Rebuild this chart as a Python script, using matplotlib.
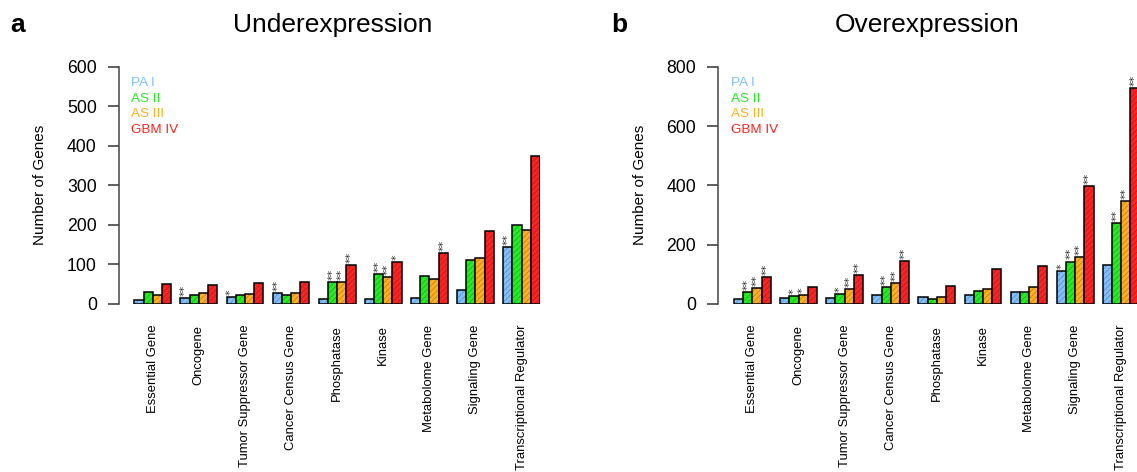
import numpy as np
import matplotlib.pyplot as plt
import matplotlib.colors as mcolors
from matplotlib.transforms import offset_copy

plt.rcParams['font.family'] = ['Liberation Sans', 'DejaVu Sans']
plt.rcParams['hatch.linewidth'] = 0.6

categories = ['Essential Gene', 'Oncogene', 'Tumor Suppressor Gene', 'Cancer Census Gene',
              'Phosphatase', 'Kinase', 'Metabolome Gene', 'Signaling Gene',
              'Transcriptional Regulator']
grades = ['PA I', 'AS II', 'AS III', 'GBM IV']
grade_colors = ['#80c0ff', '#22ee22', '#ffb020', '#ff2222']

# underexpressed genes per category
under_pa = [10, 16, 17, 27, 12, 13, 14, 35, 145]
under_as2 = [30, 24, 24, 24, 56, 76, 72, 112, 200]
under_as3 = [24, 28, 26, 27, 56, 69, 62, 117, 188]
under_gbm = [50, 47, 53, 55, 98, 106, 130, 184, 375]
under_sig_pa = ['', '**', '*', '**', '', '', '', '', '**']
under_sig_as2 = ['', '', '', '', '**', '**', '', '', '']
under_sig_as3 = ['', '', '', '', '**', '**', '', '', '']
under_sig_gbm = ['', '', '', '', '**', '*', '**', '', '']

# overexpressed genes per category
over_pa = [18, 19, 19, 29, 25, 29, 41, 112, 131]
over_as2 = [41, 27, 35, 57, 18, 43, 41, 143, 272]
over_as3 = [53, 31, 50, 70, 24, 50, 56, 157, 346]
over_gbm = [91, 58, 98, 144, 62, 119, 128, 397, 727]
over_sig_pa = ['', '', '', '', '', '', '', '*', '']
over_sig_as2 = ['**', '*', '*', '**', '', '', '', '**', '**']
over_sig_as3 = ['**', '*', '**', '**', '', '', '', '**', '**']
over_sig_gbm = ['**', '', '**', '**', '', '', '', '**', '**']

W, H = 1137, 472
fig = plt.figure(figsize=(W / 100, H / 100), dpi=100)


def px(x0, y0, w, h):
    return [x0 / W, 1 - (y0 + h) / H, w / W, h / H]


def darker(c, f=0.75):
    r, g, b = mcolors.to_rgb(c)
    return (r * f, g * f, b * f)


def panel(rect, xmin, ymax, yticks, series, sigs):
    ax = fig.add_axes(rect)
    n = len(categories)
    for k, (vals, sig) in enumerate(zip(series, sigs)):
        x = np.arange(n) * 5 + 1 + k
        ax.bar(x, vals, width=1, align='edge', color=grade_colors[k],
               edgecolor=darker(grade_colors[k]), hatch='//////', linewidth=0)
        ax.bar(x, vals, width=1, align='edge', fill=False,
               edgecolor='black', linewidth=1.1)
        tr = offset_copy(ax.transData, fig=fig, x=0, y=1.5, units='points')
        for xi, v, s in zip(x, vals, sig):
            if s:
                ax.text(xi + 0.5, v, s, transform=tr, rotation=90, ha='center',
                        va='bottom', fontsize=8, color='#333333',
                        family='DejaVu Sans')
    ax.set_xlim(xmin, 45)
    ax.set_ylim(0, ymax)
    for side in ['top', 'right', 'bottom']:
        ax.spines[side].set_visible(False)
    ax.spines['left'].set_color('#444444')
    ax.spines['left'].set_linewidth(1.1)
    ax.set_yticks(yticks)
    ax.tick_params(axis='y', length=8, width=1.1, color='#333333',
                   labelsize=12.7, pad=8)
    ax.set_xticks(np.arange(n) * 5 + 3)
    ax.set_xticklabels(categories, rotation=90, fontsize=9.4, va='top')
    ax.tick_params(axis='x', length=0, pad=15)
    ax.patch.set_alpha(0)
    return ax


panel(px(119, 66.7, 421, 237.3), -0.66, 600, range(0, 601, 100),
      [under_pa, under_as2, under_as3, under_gbm],
      [under_sig_pa, under_sig_as2, under_sig_as3, under_sig_gbm])
panel(px(718.3, 66.7, 421.4, 237.3), -0.7, 800, range(0, 801, 200),
      [over_pa, over_as2, over_as3, over_gbm],
      [over_sig_pa, over_sig_as2, over_sig_as3, over_sig_gbm])

# titles, panel letters, axis labels, legend text
for xl, xt, xy, xleg, letter, title in [(10, 333, 40, 131, 'a', 'Underexpression'),
                                        (611, 927, 640, 730.7, 'b', 'Overexpression')]:
    fig.text(xl / W, 1 - 25 / H, letter, fontsize=19, fontweight='bold',
             ha='left', va='center')
    fig.text(xt / W, 1 - 25 / H, title, fontsize=19, ha='center', va='center')
    fig.text(xy / W, 1 - 185 / H, 'Number of Genes', fontsize=11, rotation=90,
             ha='center', va='center')
    for i, (g, c) in enumerate(zip(grades, grade_colors)):
        fig.text(xleg / W, 1 - (82.7 + 15.8 * i) / H, g, color=c, fontsize=9.7,
                 ha='left', va='center')

fig.savefig('out.png', dpi=100)
